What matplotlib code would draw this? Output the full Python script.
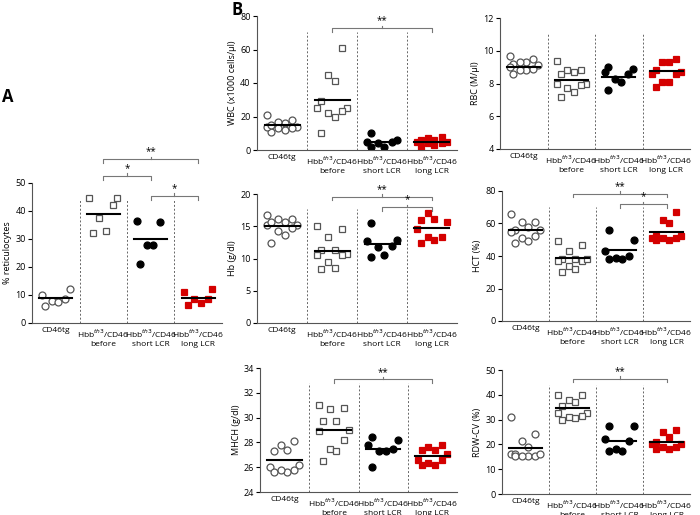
import numpy as np
import matplotlib
matplotlib.use('Agg')
import matplotlib.pyplot as plt

plt.rcParams['font.family'] = ['Open Sans', 'DejaVu Sans']

groups = ['CD46tg', 'Hbb$^{th3}$/CD46\nbefore', 'Hbb$^{th3}$/CD46\nshort LCR', 'Hbb$^{th3}$/CD46\nlong LCR']

retic = [[12, 8, 6, 7.5, 10, 8.5], [44.5, 44.5, 42, 37.5, 32, 33],
         [36, 36.5, 28, 28, 21], [12, 11, 6.5, 7, 8.5, 8.5]]
wbc = [[21, 14, 16, 17, 18, 13, 11, 12, 14, 13, 15], [61, 45, 41, 29, 25, 25, 23, 22, 20, 10],
       [10, 5, 6, 2, 2, 4, 5], [8, 7, 6, 5, 4, 3, 6, 2, 5, 4]]
rbc = [[9.7, 9.5, 9.3, 9.1, 9.3, 9.2, 9.0, 8.8, 8.8, 8.6, 8.9],
       [9.4, 8.8, 8.7, 8.8, 8.6, 8.0, 8.0, 7.9, 7.7, 7.5, 7.2],
       [9.0, 8.9, 8.7, 8.6, 8.3, 8.1, 7.6],
       [9.5, 9.3, 9.3, 8.8, 8.7, 8.6, 8.6, 8.1, 8.1, 7.8]]
hb = [[16.8, 16.2, 15.6, 15.2, 15.2, 15.6, 16.2, 14.8, 14.3, 13.6, 12.4],
      [15, 14.5, 13.3, 11.3, 11.3, 10.7, 10.5, 10.6, 9.5, 8.5, 8.4],
      [15.5, 12.7, 12.9, 11.8, 10.6, 10.3, 12.0],
      [17.1, 16.2, 16, 15.6, 14.5, 13.3, 13.4, 12.4, 12.9]]
hct = [[66, 61, 61, 58, 56, 56, 55, 51, 52, 49, 48],
       [49, 47, 43, 38, 38, 37, 37, 38, 34, 32, 30],
       [56, 50, 43, 40, 39, 38, 38],
       [67, 62, 60, 52, 51, 50, 50, 51, 51, 52]]
mchc = [[28.1, 27.8, 27.3, 27.4, 26.2, 26.0, 25.8, 25.6, 25.6, 25.8],
        [31, 30.8, 30.7, 29.7, 29.7, 29, 28.9, 28.2, 27.5, 27.3, 26.5],
        [28.4, 28.2, 27.8, 27.3, 27.5, 27.3, 26],
        [27.8, 27.6, 27.4, 27.1, 27.4, 26.6, 26.6, 26.3, 26.2, 26.2]]
rdw = [[31, 24, 21.5, 19, 16, 16, 15.5, 15.5, 15.5, 15.5, 16],
       [40, 40, 38, 37, 35.5, 32.5, 32.5, 31.5, 30.5, 30, 31],
       [27.5, 27.5, 22, 21.5, 18, 17.5, 17.5],
       [26, 25, 23, 21, 20, 20, 19, 18, 18, 19]]
means = {'retic': [9, 39, 30, 9], 'wbc': [15, 30, 5, 5], 'rbc': [9.0, 8.2, 8.4, 8.75],
         'hb': [15.1, 11.2, 12.2, 14.7], 'hct': [56, 38.5, 44, 54.5],
         'mchc': [26.6, 29, 27.5, 26.9], 'rdw': [18.5, 34.5, 21.5, 21]}

styles = [dict(marker='o', mfc='white', mec='#555555'),
          dict(marker='s', mfc='white', mec='#555555'),
          dict(marker='o', mfc='black', mec='black'),
          dict(marker='s', mfc='#d40000', mec='#d40000')]
jitter = [-0.22, 0.05, -0.08, 0.2, -0.3, 0.3]

W, H = 700, 515
fig = plt.figure(figsize=(7, 5.15), dpi=100)


def panel(x0, y0, x1, y1, data, mean, ylabel, ylim, yticks, brackets, ms=5):
    ax = fig.add_axes([x0 / W, 1 - y1 / H, (x1 - x0) / W, (y1 - y0) / H])
    for i, vals in enumerate(data):
        n = len(vals)
        order = np.argsort(vals)
        xs = np.empty(n)
        xs[order] = [jitter[k % len(jitter)] for k in range(n)]
        ax.plot(i + 0.5 + xs, vals, ls='none', ms=ms, mew=0.9, **styles[i])
        ax.plot([i + 0.15, i + 0.85], [mean[i]] * 2, color='black', lw=1.5)
    for d in [1, 2, 3]:
        ax.axvline(d, ymax=0.88, color='#666666', ls=(0, (2, 2)), lw=0.7)
    ax.set_xlim(0, 4)
    ax.set_ylim(*ylim)
    ax.set_yticks(yticks)
    ax.set_xticks([0.5, 1.5, 2.5, 3.5])
    ax.set_xticklabels(groups, fontsize=6)
    ax.tick_params(axis='x', length=0, pad=3)
    ax.tick_params(axis='y', labelsize=6.5, length=3, pad=1.5)
    ax.set_ylabel(ylabel, fontsize=6.5, labelpad=2)
    for s in ['top', 'right']:
        ax.spines[s].set_visible(False)
    for s in ['left', 'bottom']:
        ax.spines[s].set_color('#555555')
    span = ylim[1] - ylim[0]
    for a, b, yf, txt in brackets:
        y = ylim[0] + yf * span
        t = 0.03 * span
        ax.plot([a + 0.5, a + 0.5, b + 0.5, b + 0.5], [y - t, y, y, y - t],
                color='#777777', lw=0.8, clip_on=False)
        ax.plot([(a + b) / 2 + 0.5] * 2, [y, y + t * 0.6], color='#777777', lw=0.8, clip_on=False)
        ax.text((a + b) / 2 + 0.5, y + t * 0.4, txt, ha='center', va='bottom', fontsize=7)
    return ax


panel(32, 183, 222, 323, retic, means['retic'], '% reticulocytes', (0, 50), range(0, 51, 10),
      [(1, 3, 1.17, '**'), (1, 2, 1.05, '*'), (2, 3, 0.91, '*')])
panel(257, 16, 457, 150, wbc, means['wbc'], 'WBC (x1000 cells/µl)', (0, 80), range(0, 81, 20),
      [(1, 3, 0.91, '**')])
panel(500, 18, 690, 149, rbc, means['rbc'], 'RBC (M/µl)', (4, 12), range(4, 13, 2), [])
panel(257, 194, 457, 323, hb, means['hb'], 'Hb (g/dl)', (0, 20), range(0, 21, 5),
      [(1, 3, 0.98, '**'), (2, 3, 0.90, '*')])
panel(502, 191, 690, 321, hct, means['hct'], 'HCT (%)', (0, 80), range(0, 81, 20),
      [(1, 3, 0.98, '**'), (2, 3, 0.90, '*')])
panel(260, 368, 457, 492, mchc, means['mchc'], 'MHCH (g/dl)', (24, 34), range(24, 35, 2),
      [(1, 3, 0.91, '**')])
panel(502, 370, 690, 494, rdw, means['rdw'], 'RDW-CV (%)', (0, 50), range(0, 51, 10),
      [(1, 3, 0.93, '**')])

fig.text(2 / W, 1 - 88 / H, 'A', fontsize=12, fontweight='bold', va='top')
fig.text(232 / W, 1 - 1 / H, 'B', fontsize=12, fontweight='bold', va='top')

fig.savefig('out.png', dpi=100)
